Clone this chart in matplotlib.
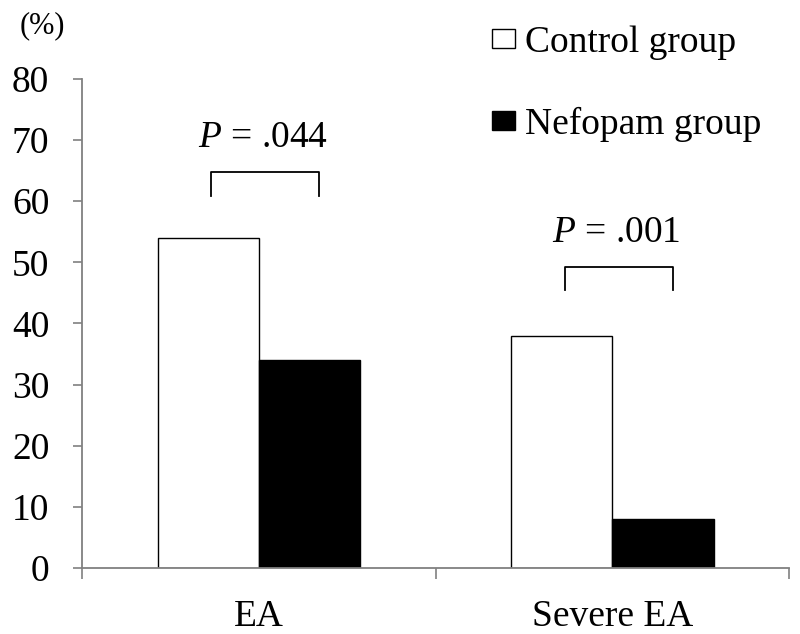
import numpy as np
import matplotlib.pyplot as plt

# Data
categories = ["EA", "Severe EA"]
control = [54, 38]
nefopam = [34, 8]
p_labels = ["$P$ = .044", "$P$ = .001"]
bracket_top = [64.8, 49.3]

plt.rcParams["font.family"] = ["Liberation Serif", "DejaVu Serif"]
plt.rcParams["mathtext.fontset"] = "custom"
plt.rcParams["mathtext.it"] = "Liberation Serif:italic"
plt.rcParams["mathtext.rm"] = "Liberation Serif"

fig = plt.figure(figsize=(8, 6.34), dpi=100)
ax = fig.add_axes([0.1025, 0.1041, 0.884, 0.7713])

x = np.arange(len(categories))
w = 0.286
ax.bar(x - w / 2, control, w, color="white", edgecolor="black", linewidth=1.0,
       label="Control group")
ax.bar(x + w / 2, nefopam, w, color="black", edgecolor="black", linewidth=1.0,
       label="Nefopam group")

# significance brackets
for i in range(len(categories)):
    top = bracket_top[i]
    xl, xr = x[i] - 0.135, x[i] + 0.17
    ax.plot([xl, xl, xr, xr], [top - 3.9, top, top, top - 3.9], color="black", lw=1.3)
    ax.text((xl + xr) / 2 - 0.007, top + 5.6, p_labels[i], ha="center", va="center",
            fontsize=27)

ax.set_xlim(-0.5, 1.5)
ax.set_ylim(0, 80)
ax.set_yticks(range(0, 81, 10))
ax.set_xticks([-0.5, 0.5, 1.5])
ax.set_xticklabels([])
ax.set_xticks(x, minor=True)
ax.set_xticklabels(categories, minor=True)
ax.tick_params(axis="x", which="minor", length=0, pad=23, labelsize=27)
ax.tick_params(axis="x", which="major", length=8, width=1.2, color="#808080", direction="out")
ax.tick_params(axis="y", length=6.5, width=1.2, color="#808080", labelsize=27, pad=17)

for s in ["top", "right"]:
    ax.spines[s].set_visible(False)
for s in ["left", "bottom"]:
    ax.spines[s].set_color("#808080")
    ax.spines[s].set_linewidth(1.3)

fig.text(0.025, 0.96, "(%)", fontsize=22, va="center")

ax.legend(loc="upper left", bbox_to_anchor=(0.592, 0.99), bbox_transform=fig.transFigure,
          frameon=False, fontsize=27, handlelength=0.61, handleheight=0.4,
          handletextpad=0.25, labelspacing=1.25, borderpad=0)

fig.savefig("out.png", dpi=100)
